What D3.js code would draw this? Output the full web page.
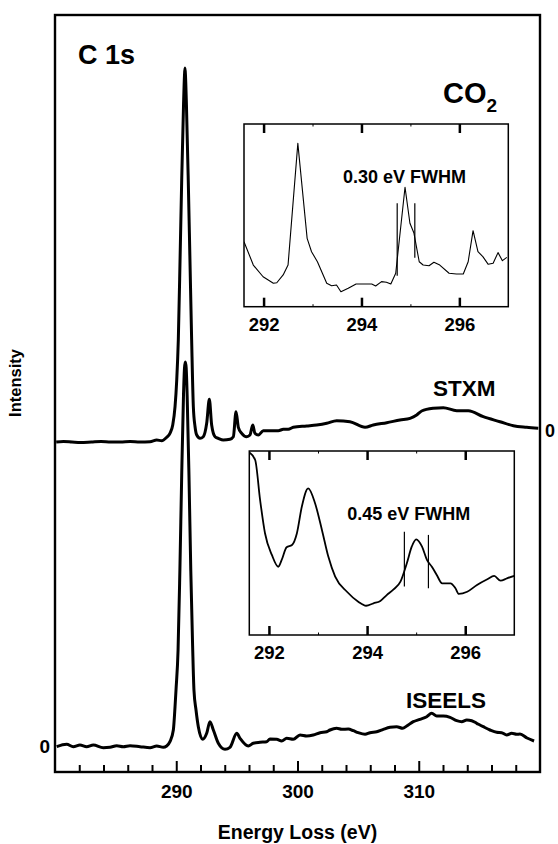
<!DOCTYPE html>
<html><head><meta charset="utf-8">
<script src="https://cdn.jsdelivr.net/npm/d3@7"></script>
<style>
body{margin:0;background:#fff}
text{font-family:"Liberation Sans",Arial,sans-serif;font-weight:bold;fill:#000}
</style>
</head><body>
<svg id="c" width="558" height="844"></svg>
<script>
// ---------- data ----------
const stxmEnergy = [280.1,280.7,281.4,282.1,283.0,283.8,284.6,285.4,286.2,287.0,287.84,288.39,288.80,289.21,289.48,289.71,289.90,290.04,290.17,290.33,290.45,290.60,290.68,290.72,290.76,290.84,290.99,291.13,291.27,291.41,291.55,291.69,291.96,292.23,292.51,292.73,292.92,293.20,293.47,293.88,294.43,294.71,294.93,295.12,295.40,295.81,296.08,296.31,296.49,296.77,297.18,297.73,298.42,298.83,299.24,299.65,300.76,301.58,302.41,303.23,304.33,305.57,306.25,307.36,308.45,309.28,309.83,310.24,311.20,312.03,313.13,314.09,315.32,316.70,317.80,318.90,319.86];
const stxmIntensity = [-1.2,-1.15,-1.2,-1.25,-1.2,-1.15,-1.2,-1.2,-1.15,-1.2,-1.17,-1.0,-1.07,-0.73,-0.33,0.5,2.33,5.0,9.0,18,25,32.5,35.5,36.2,35.5,32.5,25,17,9.0,2.33,0.33,-0.5,-0.83,-0.67,0.67,3.07,0.5,-0.67,-0.83,-1.0,-0.93,-0.67,1.83,0.27,-0.33,-0.67,-0.5,0.5,-0.33,-0.5,-0.07,-0.07,-0.07,0.07,0.07,0.27,0.4,0.5,0.67,0.93,0.83,0.27,0.5,0.73,1.0,1.17,1.5,1.9,2.17,2.23,1.93,1.93,1.33,0.83,0.43,0.27,0.17];
const stxmOffset = 31.6;

const iseelsEnergy = [280.14,280.96,281.51,282.06,282.61,283.16,283.98,284.54,285.09,285.63,286.19,287.01,287.84,288.39,288.93,289.21,289.48,289.76,289.90,289.98,290.15,290.30,290.45,290.60,290.68,290.75,290.82,290.90,291.05,291.20,291.35,291.46,291.63,291.82,292.18,292.51,292.78,293.06,293.47,294.02,294.43,294.99,295.26,295.94,296.35,296.91,297.46,297.73,298.28,298.70,299.11,299.65,300.21,300.76,301.30,301.86,302.41,302.68,303.23,303.65,304.19,304.60,305.01,305.57,305.98,306.53,307.08,307.63,308.18,308.68,309.01,309.55,310.10,310.66,311.07,311.48,312.03,312.58,313.13,313.54,313.96,314.37,314.78,315.32,315.88,316.43,316.84,317.25,317.67,318.08,318.35,318.93,319.51];
const iseelsIntensity = [-0.07,0.17,-0.07,0.1,-0.07,0.1,-0.17,-0.13,0.03,-0.07,0.03,-0.07,-0.17,0,-0.13,0,0.43,1.6,3.93,5.6,9.6,17.6,27.1,35.2,37.8,38.4,37.8,35.0,27,17.5,10,5.6,3.6,1.93,0.67,1.27,2.43,1.6,0.27,-0.33,-0.13,1.27,0.77,0,0.27,0.37,0.43,0.7,0.67,0.5,0.77,0.67,1.1,1.0,1.1,1.33,1.43,1.6,1.77,1.67,1.7,1.53,1.33,1.17,1.33,1.43,1.67,1.87,1.93,1.77,2.0,2.43,2.67,2.93,3.27,3.0,3.0,2.87,2.53,2.43,2.6,2.53,2.27,1.93,1.6,1.37,1.33,1.1,1.27,1.17,1.2,0.8,0.5];

const insetStxmEnergy = [291.60,291.79,291.99,292.20,292.27,292.40,292.50,292.70,292.89,292.98,293.10,293.29,293.39,293.49,293.58,293.73,293.89,294.03,294.21,294.29,294.41,294.51,294.60,294.70,294.89,294.99,295.07,295.18,295.26,295.38,295.48,295.60,295.79,295.94,296.08,296.18,296.28,296.38,296.48,296.59,296.69,296.79,296.88,296.97];
const insetStxmIntensity = [35.6,22.8,16.4,12.8,13.1,17.4,22.8,89.4,37.4,30.1,24.6,12.8,11.5,11.9,8.2,10.1,12.4,12.4,12.4,11.3,13.7,13.4,12.4,18.3,65.4,45.7,40.5,24.6,22.8,22.4,24.3,22.8,18.3,17.9,17.9,24.6,41.6,30.1,27.4,23.2,23.8,29.6,25.2,27.0];
const insetStxmFwhm = [[294.73,56.6,17.0],[295.09,56.6,26.8]];

const insetIseelsEnergy = [291.61,291.72,291.82,291.92,292.06,292.19,292.26,292.36,292.47,292.57,292.67,292.80,292.94,293.08,293.21,293.35,293.59,293.82,293.98,294.13,294.27,294.40,294.54,294.68,294.81,294.91,295.00,295.12,295.22,295.32,295.42,295.53,295.70,295.80,295.87,296.04,296.24,296.45,296.59,296.72,296.85,297.00];
const insetIseelsIntensity = [99,95.1,73.4,55.3,43.5,37.1,40.8,47.7,48.9,55.3,69.7,79.7,71.6,57.1,42.6,31.7,23.5,18.1,15.9,17.2,18.5,21.7,24.8,29.0,39.0,48.0,52.0,48.0,40.8,37.1,32.6,28.1,28.1,25.4,22.3,23.5,27.2,30.3,32.1,29.5,30.8,32.1];
const insetIseelsFwhm = [[294.76,56.1,26.3],[295.25,54.4,25.4]];

const mainMajorTicks = [290,300,310];
const mainMinorTicks = [282,284,286,288,292,294,296,298,302,304,306,308,312,314,316,318];
const insetMajorTicks = [292,294,296];
const insetMinorTicks = [293,295];

// ---------- drawing ----------
const svg = d3.select("#c");
const x = d3.scaleLinear().domain([280,320]).range([55,540]);
const y = d3.scaleLinear().domain([-2.6,73.1]).range([772,15]);

const line = d3.line().x(d=>x(d[0])).y(d=>y(d[1])).curve(d3.curveMonotoneX);

svg.append("path")
  .datum(stxmEnergy.map((e,i)=>[e, stxmIntensity[i]+stxmOffset]))
  .attr("d", line).attr("fill","none").attr("stroke","#000")
  .attr("stroke-width",3).attr("stroke-linejoin","round");
svg.append("path")
  .datum(iseelsEnergy.map((e,i)=>[e, iseelsIntensity[i]]))
  .attr("d", line).attr("fill","none").attr("stroke","#000")
  .attr("stroke-width",3).attr("stroke-linejoin","round");

// frame
svg.append("rect").attr("x",55).attr("y",15).attr("width",485).attr("height",757)
  .attr("fill","none").attr("stroke","#000").attr("stroke-width",2.4);

// bottom axis
const gMinor = svg.append("g").attr("transform","translate(0,772)")
  .call(d3.axisBottom(x).tickValues(mainMinorTicks).tickSize(-7).tickFormat(""));
gMinor.select(".domain").remove();
gMinor.selectAll("line").attr("stroke-width",2);
const gMajor = svg.append("g").attr("transform","translate(0,772)")
  .call(d3.axisBottom(x).tickValues(mainMajorTicks).tickSize(-11).tickPadding(13).tickFormat(d3.format("d")));
gMajor.select(".domain").remove();
gMajor.selectAll("line").attr("stroke-width",2);
gMajor.selectAll("text").attr("font-size",19).attr("font-family",null).attr("fill","#000");

// labels
svg.append("text").attr("x",297.5).attr("y",839).attr("text-anchor","middle").attr("font-size",19.5).text("Energy Loss (eV)");
svg.append("text").attr("transform","translate(21,383) rotate(-90)").attr("text-anchor","middle").attr("font-size",16.5).text("Intensity");
svg.append("text").attr("x",50).attr("y",y(0)+7).attr("text-anchor","end").attr("font-size",19).text("0");
svg.append("text").attr("x",545).attr("y",y(stxmOffset)+7).attr("text-anchor","start").attr("font-size",18).text("0");
svg.append("text").attr("x",78).attr("y",64).attr("font-size",27).text("C 1s");
const co2 = svg.append("text").attr("x",443).attr("y",103).attr("font-size",29);
co2.append("tspan").text("CO");
co2.append("tspan").attr("font-size",19).attr("dy",9).text("2");
svg.append("text").attr("x",433).attr("y",396).attr("font-size",22.5).text("STXM");
svg.append("text").attr("x",406).attr("y",708).attr("font-size",22.5).text("ISEELS");

// insets
function inset(left, top, right, bottom, E, I, fwhm, label, labelE, labelV, sw, smooth, id){
  const xi = d3.scaleLinear().domain([291.6,297.0]).range([left,right]);
  const yi = d3.scaleLinear().domain([0,100]).range([bottom,top]);
  const g = svg.append("g");
  g.append("rect").attr("x",left).attr("y",top).attr("width",right-left).attr("height",bottom-top)
    .attr("fill","#fff").attr("stroke","none");
  g.append("clipPath").attr("id",id).append("rect").attr("x",left).attr("y",top)
    .attr("width",right-left).attr("height",bottom-top);
  const ln = d3.line().x(d=>xi(d[0])).y(d=>yi(d[1]));
  if (smooth) ln.curve(d3.curveMonotoneX);
  g.append("path").datum(E.map((e,i)=>[e,I[i]]))
    .attr("d", ln)
    .attr("clip-path",`url(#${id})`)
    .attr("fill","none").attr("stroke","#000").attr("stroke-width",sw).attr("stroke-linejoin","round");
  fwhm.forEach(f=>{
    g.append("line").attr("x1",xi(f[0])).attr("x2",xi(f[0])).attr("y1",yi(f[1])).attr("y2",yi(f[2]))
      .attr("stroke","#000").attr("stroke-width",1.2);
  });
  g.append("text").attr("x",xi(labelE)).attr("y",yi(labelV)).attr("text-anchor","middle")
    .attr("font-size",18).text(label);
  g.append("rect").attr("x",left).attr("y",top).attr("width",right-left).attr("height",bottom-top)
    .attr("fill","none").attr("stroke","#000").attr("stroke-width",1.5);
  const tTop = g.append("g").attr("transform",`translate(0,${top})`)
    .call(d3.axisTop(xi).tickValues(insetMajorTicks).tickSize(-9).tickFormat(""));
  const tTopMin = g.append("g").attr("transform",`translate(0,${top})`)
    .call(d3.axisTop(xi).tickValues(insetMinorTicks).tickSize(-2.5).tickFormat(""));
  const tBot = g.append("g").attr("transform",`translate(0,${bottom})`)
    .call(d3.axisBottom(xi).tickValues(insetMajorTicks).tickSize(-9).tickPadding(11).tickFormat(d3.format("d")));
  const tBotMin = g.append("g").attr("transform",`translate(0,${bottom})`)
    .call(d3.axisBottom(xi).tickValues(insetMinorTicks).tickSize(-2.5).tickFormat(""));
  [tTop,tTopMin,tBot,tBotMin].forEach(a=>a.select(".domain").remove());
  tTop.selectAll("line").attr("stroke-width",2.5);
  tBot.selectAll("line").attr("stroke-width",2.5);
  tTopMin.selectAll("line").attr("stroke-width",1);
  tBotMin.selectAll("line").attr("stroke-width",1);
  tBot.selectAll("text").attr("font-size",18.5).attr("font-family",null).attr("fill","#000");
}
inset(244,124,508.3,306.7, insetStxmEnergy, insetStxmIntensity, insetStxmFwhm, "0.30 eV FWHM", 294.88, 67.5, 1.1, false, "clipA");
inset(249.3,451,514.3,635, insetIseelsEnergy, insetIseelsIntensity, insetIseelsFwhm, "0.45 eV FWHM", 294.85, 62.5, 1.8, true, "clipB");
</script>
</body></html>
